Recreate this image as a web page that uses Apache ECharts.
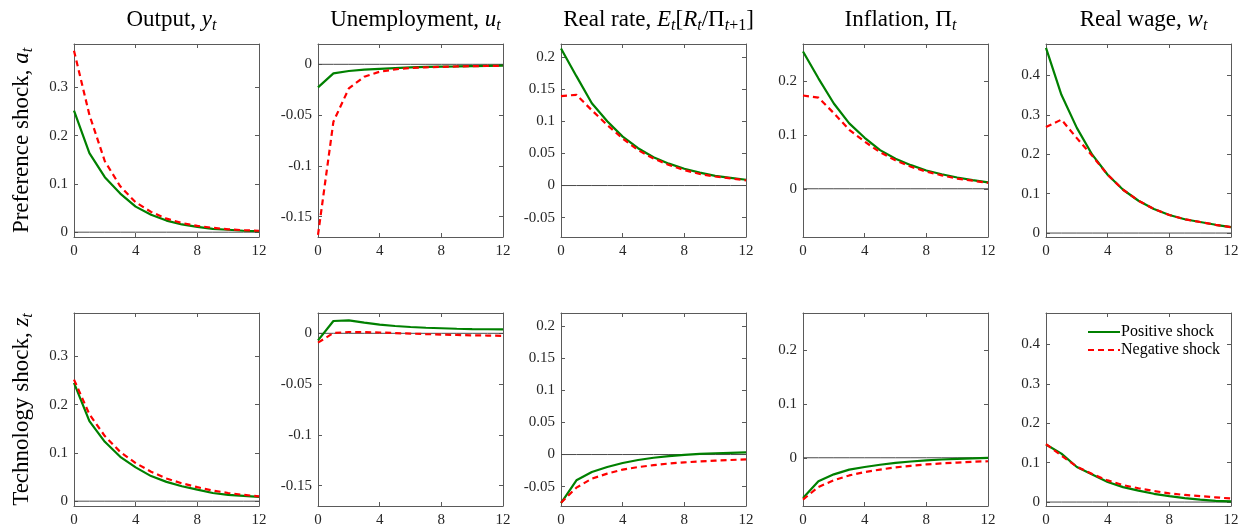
<!DOCTYPE html>
<html>
<head>
<meta charset="utf-8">
<script src="https://cdn.jsdelivr.net/npm/echarts@6/dist/echarts.min.js"></script>
<style>
html,body{margin:0;padding:0;background:#fff;}
#chart{width:1246px;height:532px;}
</style>
</head>
<body>
<div id="chart"></div>
<script>
// ---------- data ----------
const horizon = [0,1,2,3,4,5,6,7,8,9,10,11,12];
const xTicks = [0,4,8,12];

// Preference shock row
const prefOutputPos = [0.252,0.164,0.114,0.080,0.053,0.036,0.024,0.016,0.011,0.007,0.005,0.003,0.002];
const prefOutputNeg = [0.376,0.243,0.147,0.095,0.062,0.042,0.028,0.019,0.013,0.009,0.006,0.004,0.003];
const prefUnempPos  = [-0.0227,-0.0089,-0.0066,-0.0053,-0.0045,-0.0037,-0.0030,-0.0026,-0.0022,-0.0020,-0.0017,-0.0015,-0.0013];
const prefUnempNeg  = [-0.168,-0.0565,-0.0237,-0.0122,-0.0073,-0.0050,-0.0035,-0.0030,-0.0025,-0.0021,-0.0018,-0.0016,-0.0015];
const prefRatePos   = [0.213,0.170,0.128,0.100,0.076,0.058,0.044,0.034,0.026,0.020,0.015,0.012,0.009];
const prefRateNeg   = [0.139,0.141,0.117,0.094,0.073,0.055,0.042,0.032,0.024,0.018,0.014,0.011,0.008];
const prefInflPos   = [0.256,0.206,0.159,0.122,0.095,0.072,0.056,0.044,0.034,0.027,0.021,0.016,0.012];
const prefInflNeg   = [0.174,0.170,0.141,0.110,0.088,0.068,0.053,0.041,0.032,0.025,0.019,0.015,0.011];
const prefWagePos   = [0.470,0.351,0.267,0.199,0.148,0.110,0.082,0.061,0.046,0.035,0.028,0.021,0.015];
const prefWageNeg   = [0.269,0.288,0.241,0.196,0.148,0.110,0.082,0.061,0.046,0.035,0.028,0.021,0.015];

// Technology shock row
const techOutputPos = [0.245,0.166,0.123,0.092,0.070,0.052,0.040,0.031,0.024,0.017,0.013,0.011,0.009];
const techOutputNeg = [0.252,0.180,0.135,0.102,0.079,0.061,0.047,0.037,0.029,0.022,0.017,0.013,0.010];
const techUnempPos  = [-0.0069,0.0121,0.0128,0.0105,0.0086,0.0072,0.0062,0.0055,0.0050,0.0045,0.0042,0.0040,0.0038];
const techUnempNeg  = [-0.0092,0.0003,0.0013,0.0012,0.0008,0.0002,-0.0003,-0.0008,-0.0012,-0.0016,-0.0020,-0.0022,-0.0025];
const techRatePos   = [-0.0754,-0.0400,-0.0272,-0.0194,-0.0132,-0.0085,-0.0050,-0.0025,-0.0005,0.0010,0.0020,0.0027,0.0032];
const techRateNeg   = [-0.0750,-0.0515,-0.0375,-0.0297,-0.0235,-0.0195,-0.0165,-0.0140,-0.0122,-0.0107,-0.0095,-0.0085,-0.0075];
const techInflPos   = [-0.0750,-0.0440,-0.0310,-0.0222,-0.0173,-0.0130,-0.0097,-0.0070,-0.0050,-0.0033,-0.0020,-0.0010,-0.0003];
const techInflNeg   = [-0.0780,-0.0545,-0.0420,-0.0330,-0.0266,-0.0220,-0.0180,-0.0150,-0.0125,-0.0105,-0.0090,-0.0075,-0.0065];
const techWagePos   = [0.146,0.123,0.089,0.070,0.051,0.038,0.029,0.021,0.015,0.010,0.006,0.003,0.0015];
const techWageNeg   = [0.147,0.118,0.090,0.071,0.055,0.043,0.035,0.028,0.022,0.018,0.015,0.012,0.009];

// axis ranges and ticks per column
const yMins  = [-0.01,-0.17,-0.08,-0.09,-0.01];
const yMaxs  = [0.39,0.02,0.22,0.27,0.48];
const yTicksOutput = [0,0.1,0.2,0.3];
const yTicksUnemp  = [-0.15,-0.1,-0.05,0];
const yTicksRate   = [-0.05,0,0.05,0.1,0.15,0.2];
const yTicksInfl   = [0,0.1,0.2];
const yTicksWage   = [0,0.1,0.2,0.3,0.4];

const seriesNames = ['Positive shock','Negative shock'];

// ---------- layout ----------
const F = "'Liberation Serif','Times New Roman',serif";
const colLeft = [74,318,561,803,1046];
const rowTop = [44,313];
const W = 185, H = 193;
const frameColor = '#5a5a5a';
const textColor = '#262626';

const rich = {
  r: {fontFamily:F, fontSize:23, color:'#000', lineHeight:28, verticalAlign:'middle'},
  i: {fontFamily:F, fontSize:23, color:'#000', lineHeight:28, verticalAlign:'middle', fontStyle:'italic'},
  s: {fontFamily:F, fontSize:16, color:'#000', lineHeight:16, verticalAlign:'bottom', fontStyle:'italic'},
  sr:{fontFamily:F, fontSize:16, color:'#000', lineHeight:16, verticalAlign:'bottom'}
};

const colTitles = [
  '{r|Output, }{i|y}{s|t}',
  '{r|Unemployment, }{i|u}{s|t}',
  '{r|Real rate, }{i|E}{s|t}{r|[}{i|R}{s|t}{r|/Π}{s|t}{sr|+1}{r|]}',
  '{r|Inflation, Π}{s|t}',
  '{r|Real wage, }{i|w}{s|t}'
];
const rowTitles = ['{r|Preference shock, }{i|a}{s|t}','{r|Technology shock, }{i|z}{s|t}'];

const yTicksAll = [yTicksOutput,yTicksUnemp,yTicksRate,yTicksInfl,yTicksWage];
const panelData = [
  [[prefOutputPos,prefOutputNeg],[prefUnempPos,prefUnempNeg],[prefRatePos,prefRateNeg],[prefInflPos,prefInflNeg],[prefWagePos,prefWageNeg]],
  [[techOutputPos,techOutputNeg],[techUnempPos,techUnempNeg],[techRatePos,techRateNeg],[techInflPos,techInflNeg],[techWagePos,techWageNeg]]
];

const grid=[], xAxis=[], yAxis=[], series=[], title=[];
const pairs = arr => horizon.map((t,i)=>[t,arr[i]]);

for (let c=0;c<5;c++){
  title.push({
    text: colTitles[c], left: colLeft[c]+W/2, top: 1, textAlign:'center',
    textStyle:{rich:rich, fontFamily:F, fontSize:23, fontWeight:'normal', color:'#000'}
  });
}

let g=0;
for (let r=0;r<2;r++){
  for (let c=0;c<5;c++){
    grid.push({left:colLeft[c], top:rowTop[r], width:W, height:H, containLabel:false});
    const common = {gridIndex:g, splitLine:{show:false}};
    xAxis.push(Object.assign({}, common, {
      type:'value', position:'bottom', min:0, max:12, interval:4,
      axisLine:{show:true, onZero:false, lineStyle:{color:frameColor,width:1}},
      axisTick:{show:true, inside:true, length:4, lineStyle:{color:frameColor}},
      axisLabel:{show:true, margin:7, color:textColor, fontFamily:F, fontSize:15, customValues:xTicks}
    }));
    xAxis.push(Object.assign({}, common, {
      type:'value', position:'top', min:0, max:12, interval:4,
      axisLine:{show:true, onZero:false, lineStyle:{color:frameColor,width:1}},
      axisTick:{show:true, inside:true, length:4, lineStyle:{color:frameColor}},
      axisLabel:{show:false}
    }));
    const yl = {
      type:'value', position:'left', min:yMins[c], max:yMaxs[c],
      axisLine:{show:true, onZero:false, lineStyle:{color:frameColor,width:1}},
      axisTick:{show:true, inside:true, length:4, customValues:yTicksAll[c], lineStyle:{color:frameColor}},
      axisLabel:{show:true, margin:6, color:textColor, fontFamily:F, fontSize:15, customValues:yTicksAll[c]}
    };
    if (c===0){
      yl.name = rowTitles[r];
      yl.nameLocation = 'middle';
      yl.nameGap = 38;
      yl.nameRotate = 90;
      yl.nameTextStyle = {rich:rich, fontFamily:F, fontSize:23, color:'#000'};
    }
    yAxis.push(Object.assign({}, common, yl));
    yAxis.push(Object.assign({}, common, {
      type:'value', position:'right', min:yMins[c], max:yMaxs[c],
      axisLine:{show:true, onZero:false, lineStyle:{color:frameColor,width:1}},
      axisTick:{show:true, inside:true, length:4, customValues:yTicksAll[c], lineStyle:{color:frameColor}},
      axisLabel:{show:false}
    }));
    // zero reference line
    series.push({
      type:'line', name:'zero', xAxisIndex:2*g, yAxisIndex:2*g, data:pairs(horizon.map(()=>0)),
      symbol:'none', silent:true, z:1, lineStyle:{color:'#4a4a4a', width:1}, animation:false
    });
    const [pos,neg] = panelData[r][c];
    series.push({
      type:'line', name:seriesNames[0], xAxisIndex:2*g, yAxisIndex:2*g, data:pairs(pos),
      symbol:'none', z:3, lineStyle:{color:'#008000', width:2.2}, itemStyle:{color:'#008000'}, animation:false
    });
    series.push({
      type:'line', name:seriesNames[1], xAxisIndex:2*g, yAxisIndex:2*g, data:pairs(neg),
      symbol:'none', z:4, lineStyle:{color:'#ff0000', width:2.2, type:[6,4]}, itemStyle:{color:'#ff0000'}, animation:false
    });
    g++;
  }
}

const chart = echarts.init(document.getElementById('chart'), null, {renderer:'canvas'});
chart.setOption({
  backgroundColor:'#fff',
  animation:false,
  title:title,
  grid:grid, xAxis:xAxis, yAxis:yAxis, series:series,
  legend:{
    data:seriesNames, orient:'vertical', left:1087, top:324, itemWidth:32, itemHeight:10, itemGap:2,
    padding:0, itemStyle:{opacity:0},
    textStyle:{fontFamily:F, fontSize:16, color:'#000', padding:[0,0,0,-4]}
  }
});
</script>
</body>
</html>
